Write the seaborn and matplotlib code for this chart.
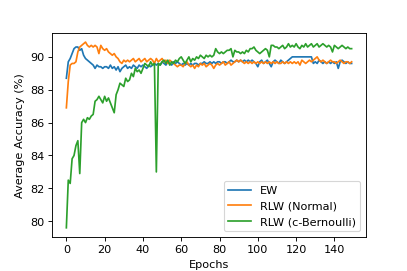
import numpy as np
import pandas as pd
import matplotlib
matplotlib.use("Agg")
import matplotlib.pyplot as plt
import seaborn as sns

# accuracy per epoch
ew = [
    88.7, 89.7, 89.9, 90.2, 90.5, 90.6, 90.6, 90.4, 90.5, 90.1,
    89.9, 89.8, 89.7, 89.6, 89.5, 89.3, 89.5, 89.4, 89.4, 89.3,
    89.4, 89.4, 89.3, 89.5, 89.3, 89.4, 89.2, 89.4, 89.1, 89.3,
    89.4, 89.5, 89.3, 89.4, 89.3, 89.5, 89.4, 89.3, 89.5, 89.4,
    89.5, 89.4, 89.3, 89.5, 89.4, 89.5, 89.6, 89.5, 89.6, 89.5,
    89.7, 89.6, 89.5, 89.7, 89.6, 89.5, 89.7, 89.6, 89.7, 89.6,
    89.5, 89.6, 89.5, 89.6, 89.5, 89.6, 89.5, 89.6, 89.6, 89.5,
    89.6, 89.6, 89.7, 89.6, 89.6, 89.7, 89.6, 89.7, 89.6, 89.7,
    89.7, 89.6, 89.7, 89.7, 89.6, 89.7, 89.8, 89.7, 89.7, 89.8,
    89.7, 89.8, 89.7, 89.8, 89.7, 89.8, 89.7, 89.8, 89.7, 89.6,
    89.4, 89.7, 89.8, 89.6, 89.7, 89.8, 89.6, 89.4, 89.7, 89.8,
    89.7, 89.6, 89.8, 89.7, 89.6, 89.7, 89.8, 89.9, 90.0, 90.0,
    90.0, 90.0, 90.0, 90.0, 90.0, 90.0, 90.0, 90.0, 90.0, 89.6,
    89.7, 89.6, 89.8, 89.7, 89.6, 89.7, 89.6, 89.7, 89.6, 89.7,
    89.6, 89.7, 89.3, 89.7, 89.8, 89.7, 89.6, 89.7, 89.6, 89.6,
]
rlw_normal = [
    86.9, 88.5, 89.5, 89.6, 89.6, 89.7, 90.3, 90.6, 90.7, 90.8,
    90.9, 90.7, 90.6, 90.7, 90.6, 90.7, 90.6, 90.2, 90.7, 90.5,
    90.4, 90.5, 90.3, 90.2, 90.1, 90.2, 90.0, 89.9, 89.7, 89.6,
    89.8, 89.7, 89.8, 89.7, 89.8, 89.9, 89.7, 89.8, 89.9, 89.7,
    89.8, 89.9, 89.7, 89.8, 89.9, 89.8, 89.6, 89.9, 89.7, 89.8,
    89.9, 89.7, 89.8, 89.6, 89.8, 89.7, 89.6, 89.5, 89.4, 89.5,
    89.5, 89.4, 89.6, 89.7, 89.5, 89.4, 89.5, 89.3, 89.5, 89.4,
    89.6, 89.5, 89.6, 89.4, 89.5, 89.6, 89.5, 89.3, 89.5, 89.6,
    89.5, 89.6, 89.7, 89.5, 89.6, 89.7, 89.5, 89.6, 89.7, 89.8,
    89.7, 89.8, 89.7, 89.6, 89.7, 89.6, 89.7, 89.6, 89.7, 89.6,
    89.7, 89.6, 89.7, 89.6, 89.7, 89.6, 89.7, 89.6, 89.7, 89.6,
    89.7, 89.6, 89.6, 89.7, 89.6, 89.7, 89.6, 89.7, 89.6, 89.7,
    89.6, 89.7, 89.5, 89.8, 89.7, 89.6, 89.7, 89.8, 89.7, 89.8,
    89.9, 90.0, 89.8, 89.7, 89.8, 89.7, 89.6, 89.7, 89.8, 89.7,
    89.7, 89.6, 89.7, 89.8, 89.7, 89.6, 89.7, 89.7, 89.6, 89.7,
]
rlw_bern = [
    79.6, 82.5, 82.3, 83.8, 84.0, 84.6, 84.9, 82.9, 86.0, 86.2,
    86.0, 86.3, 86.2, 86.4, 86.5, 87.3, 87.4, 87.6, 87.4, 87.2,
    87.6, 87.3, 87.5, 87.2, 86.9, 86.6, 87.7, 88.0, 88.4, 88.3,
    88.2, 88.7, 88.5, 88.6, 89.0, 88.8, 89.3, 89.1, 89.2, 89.0,
    89.3, 89.6, 89.5, 89.4, 89.7, 89.5, 89.6, 83.0, 89.6, 89.5,
    89.7, 89.8, 89.6, 89.8, 89.5, 89.7, 89.6, 89.8, 89.7, 89.9,
    90.0, 89.8, 89.6, 89.8, 90.0, 89.7, 89.9, 89.8, 90.0, 89.9,
    90.1, 90.0, 89.9, 90.1, 90.0, 90.1, 90.0, 90.1, 90.5, 90.3,
    90.2, 90.3, 90.2, 90.3, 90.4, 90.4, 90.5, 90.0, 90.4, 90.3,
    90.3, 90.2, 90.3, 90.2, 90.4, 90.3, 90.5, 90.5, 90.6, 90.4,
    90.3, 90.2, 90.3, 90.4, 90.5, 90.4, 90.0, 90.7, 90.7, 90.6,
    90.6, 90.5, 90.6, 90.7, 90.5, 90.6, 90.8, 90.6, 90.7, 90.6,
    90.8, 90.6, 90.5, 90.7, 90.6, 90.8, 90.6, 90.7, 90.8, 90.6,
    90.7, 90.8, 90.6, 90.7, 90.8, 90.7, 90.6, 90.7, 90.6, 90.3,
    90.7, 90.6, 90.5, 90.6, 90.7, 90.6, 90.5, 90.6, 90.5, 90.5,
]
methods = ["EW", "RLW (Normal)", "RLW (c-Bernoulli)"]
epochs = np.arange(len(ew))

# long table for seaborn
df = pd.concat([
    pd.DataFrame({"Epochs": epochs, "acc": vals, "method": name})
    for name, vals in zip(methods, [ew, rlw_normal, rlw_bern])
], ignore_index=True)

fig, ax = plt.subplots(figsize=(5.0, 3.333), dpi=81.4)
fig.subplots_adjust(left=0.128, right=0.899, top=0.878, bottom=0.125)
sns.lineplot(data=df, x="Epochs", y="acc", hue="method", hue_order=methods,
             palette=sns.color_palette("tab10", 3), linewidth=1.5, ax=ax)
ax.set_xlabel("Epochs")
ax.set_ylabel("Average Accuracy (%)")
sns.move_legend(ax, "lower right", title=None)

fig.savefig("out.png", dpi=81.4)
